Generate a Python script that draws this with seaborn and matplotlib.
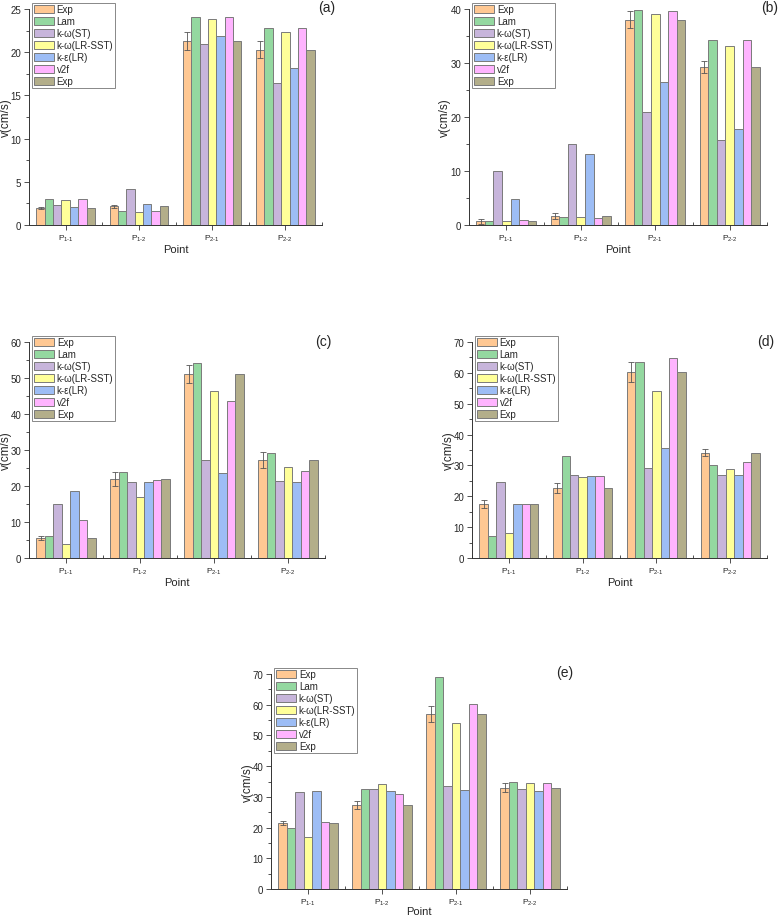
import numpy as np
import pandas as pd
import matplotlib
matplotlib.use("Agg")
import matplotlib.pyplot as plt
import seaborn as sns

# ---------------- data ----------------
points = ["P1-1", "P1-2", "P2-1", "P2-2"]
tick_labels = ["P$_{\\mathrm{1\u20101}}$", "P$_{\\mathrm{1\u20102}}$",
               "P$_{\\mathrm{2\u20101}}$", "P$_{\\mathrm{2\u20102}}$"]
models = ["Exp", "Lam", "k-ω(ST)", "k-ω(LR-SST)", "k-ε(LR)", "v2f", "Exp"]
model_keys = ["Exp_a", "Lam", "kw_ST", "kw_SST", "ke_LR", "v2f", "Exp_b"]
colors = ["#FFC893", "#94D8A0", "#C7B5DB", "#FFFF99", "#9DBDF5", "#FFB4FF", "#B3AE8A"]

# values per panel: rows = points, columns = models
vals_a = [[2.0, 3.05, 2.35, 2.9, 2.1, 3.05, 2.0],
          [2.15, 1.65, 4.2, 1.5, 2.45, 1.65, 2.15],
          [21.3, 24.1, 20.9, 23.9, 21.9, 24.1, 21.3],
          [20.3, 22.85, 16.4, 22.3, 18.2, 22.85, 20.3]]
err_a = [0.12, 0.15, 1.0, 0.95]

vals_b = [[0.7, 0.8, 10.0, 0.7, 4.9, 1.0, 0.7],
          [1.65, 1.5, 15.0, 1.4, 13.1, 1.3, 1.65],
          [38.0, 39.9, 20.9, 39.1, 26.5, 39.7, 38.0],
          [29.2, 34.2, 15.7, 33.1, 17.8, 34.2, 29.2]]
err_b = [0.5, 0.55, 1.55, 1.1]

vals_c = [[5.6, 6.0, 15.1, 3.8, 18.5, 10.5, 5.6],
          [22.0, 23.9, 21.1, 16.9, 21.1, 21.7, 22.0],
          [51.2, 54.3, 27.2, 46.3, 23.7, 43.5, 51.2],
          [27.2, 29.1, 21.5, 25.2, 21.1, 24.1, 27.2]]
err_c = [0.55, 1.9, 2.5, 2.2]

vals_d = [[17.4, 7.0, 24.5, 8.1, 17.4, 17.4, 17.4],
          [22.6, 33.2, 26.8, 26.1, 26.7, 26.6, 22.6],
          [60.3, 63.5, 29.1, 54.1, 35.5, 64.8, 60.3],
          [34.1, 30.3, 26.9, 29.0, 26.8, 31.2, 34.1]]
err_d = [1.3, 1.6, 3.3, 1.1]

vals_e = [[21.4, 19.8, 31.5, 16.8, 31.8, 21.7, 21.4],
          [27.3, 32.4, 32.6, 34.3, 31.9, 30.9, 27.3],
          [57.1, 69.0, 33.4, 54.2, 32.3, 60.2, 57.1],
          [33.0, 34.7, 32.6, 34.4, 32.0, 34.4, 33.0]]
err_e = [0.7, 1.35, 2.6, 1.45]

panel_letters = ["(a)", "(b)", "(c)", "(d)", "(e)"]
ylims = [25, 40, 60, 70, 70]
ymajor = [5, 10, 10, 10, 10]

# ---------------- style ----------------
sns.set_theme(style="white")
plt.rcParams["font.family"] = ["Liberation Sans", "DejaVu Sans"]
plt.rcParams["mathtext.fontset"] = "custom"
plt.rcParams["mathtext.rm"] = "Liberation Sans"
plt.rcParams["mathtext.it"] = "Liberation Sans:italic"

W, H = 779, 920
fig = plt.figure(figsize=(W / 100, H / 100), dpi=100)

# axes boxes in pixels: left, right, top, bottom
boxes = [(29, 322, 10, 226), (469, 767, 10, 226),
         (29, 325, 343, 559), (472, 767, 343, 559),
         (271, 567, 675, 890)]
label_pos = [(327, 8), (770, 8), (323, 342), (766, 342), (565, 673)]
ylabel_off = [17, 18, 17, 17, 17]     # px from axis to y label anchor
xlabel_off = [19, 19, 19, 19, 17]     # px from axis to top of x label

all_vals = [vals_a, vals_b, vals_c, vals_d, vals_e]
all_err = [err_a, err_b, err_c, err_d, err_e]

for i in range(5):
    l, r, t, b = boxes[i]
    aw, ah = r - l, b - t
    ax = fig.add_axes([l / W, 1 - b / H, aw / W, ah / H])
    vals = np.array(all_vals[i])
    rows = []
    for pi, p in enumerate(points):
        for mi, mk in enumerate(model_keys):
            rows.append({"Point": p, "Model": mk, "v": vals[pi, mi]})
    df = pd.DataFrame(rows)
    sns.barplot(data=df, x="Point", y="v", hue="Model", order=points,
                hue_order=model_keys, palette=dict(zip(model_keys, colors)),
                width=0.8, errorbar=None, edgecolor="#7a7a7a", linewidth=0.7,
                saturation=1, ax=ax)
    # error bars on first Exp series
    cont = ax.containers[0]
    xs = [bar.get_x() + bar.get_width() / 2 for bar in cont]
    ys = [bar.get_height() for bar in cont]
    ax.errorbar(xs, ys, yerr=all_err[i], fmt="none", ecolor="#555555",
                elinewidth=0.6, capsize=2, capthick=0.6, zorder=5)

    ax.set_xlim(-0.5, 3.5)
    ax.set_ylim(0, ylims[i])
    ax.set_yticks(np.arange(0, ylims[i] + 0.01, ymajor[i]))
    ax.set_yticks(np.arange(0, ylims[i] + 0.01, ymajor[i] / 2), minor=True)
    ax.set_xticks(range(4))
    ax.set_xticklabels(tick_labels, fontsize=6)
    ax.set_xticks([-0.5, 0.5, 1.5, 2.5, 3.5], minor=True)
    ax.tick_params(axis="y", which="major", labelsize=7, length=3.5, width=0.6,
                   direction="out", left=True, color="#333333", pad=2)
    ax.tick_params(axis="y", which="minor", length=2, width=0.6, direction="out",
                   left=True, color="#333333")
    ax.tick_params(axis="x", which="major", length=3.5, width=0.6, direction="out",
                   bottom=True, color="#333333", pad=2)
    ax.tick_params(axis="x", which="minor", length=2.5, width=0.6, direction="in",
                   bottom=True, color="#333333")
    for s in ["top", "right"]:
        ax.spines[s].set_visible(False)
    for s in ["left", "bottom"]:
        ax.spines[s].set_color("#333333")
        ax.spines[s].set_linewidth(0.7)
    ax.set_ylabel("v(cm/s)", fontsize=8.5)
    ax.yaxis.set_label_coords(-ylabel_off[i] / aw, 0.5)
    ax.set_xlabel("Point", fontsize=8)
    ax.xaxis.set_label_coords(0.5, -xlabel_off[i] / ah)

    leg = ax.get_legend()
    handles = leg.legend_handles
    leg.remove()
    lg = ax.legend(handles, models, loc="upper left", bbox_to_anchor=(0.01, 1.03),
                   fontsize=7, frameon=True, fancybox=False, framealpha=1,
                   edgecolor="#888888", handlelength=2.1, handleheight=0.95,
                   labelspacing=0.2, handletextpad=0.25, borderpad=0.2,
                   borderaxespad=0)
    lg.get_frame().set_linewidth(0.7)

    x, y = label_pos[i]
    fig.text(x / W, 1 - y / H, panel_letters[i], fontsize=10, ha="center", va="center")

fig.savefig("out.png", dpi=100)
